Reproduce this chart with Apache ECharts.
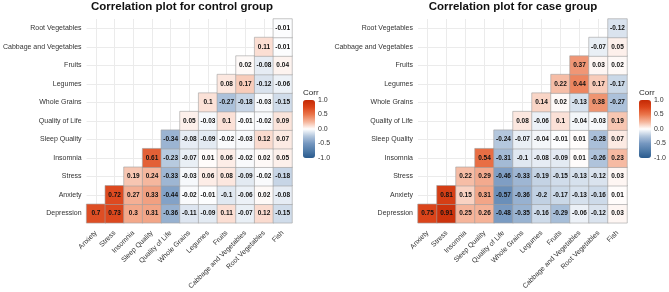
<!DOCTYPE html>
<html>
<head>
<meta charset="utf-8">
<script src="https://cdn.jsdelivr.net/npm/echarts@6/dist/echarts.min.js"></script>
<style>
  html, body { margin: 0; padding: 0; background: #fff; }
  #chart { width: 669px; height: 292px; }
</style>
</head>
<body>
<div id="chart"></div>
<script>
// y axis (bottom to top) and x axis (left to right)
const rowVars = ['Depression', 'Anxiety', 'Stress', 'Insomnia', 'Sleep Quality', 'Quality of Life',
  'Whole Grains', 'Legumes', 'Fruits', 'Cabbage and Vegetables', 'Root Vegetables']
const colVars = ['Anxiety', 'Stress', 'Insomnia', 'Sleep Quality', 'Quality of Life', 'Whole Grains',
  'Legumes', 'Fruits', 'Cabbage and Vegetables', 'Root Vegetables', 'Fish']

// row i starts at column i
const controlCorr = [
  [0.7, 0.73, 0.3, 0.31, -0.36, -0.11, -0.09, 0.11, -0.07, 0.12, -0.15],
  [0.72, 0.27, 0.33, -0.44, -0.02, -0.01, -0.1, -0.06, 0.02, -0.08],
  [0.19, 0.24, -0.33, -0.03, 0.06, 0.08, -0.09, -0.02, -0.18],
  [0.61, -0.23, -0.07, 0.01, 0.06, -0.02, 0.02, 0.05],
  [-0.34, -0.08, -0.09, -0.02, -0.03, 0.12, 0.07],
  [0.05, -0.03, 0.1, -0.01, -0.02, 0.09],
  [0.1, -0.27, -0.18, -0.03, -0.15],
  [0.08, 0.17, -0.12, -0.06],
  [0.02, -0.08, 0.04],
  [0.11, -0.01],
  [-0.01],
]
const caseCorr = [
  [0.75, 0.91, 0.25, 0.26, -0.48, -0.35, -0.16, -0.29, -0.06, -0.12, 0.03],
  [0.81, 0.15, 0.31, -0.57, -0.36, -0.2, -0.17, -0.13, -0.16, 0.01],
  [0.22, 0.29, -0.46, -0.33, -0.19, -0.15, -0.13, -0.12, 0.03],
  [0.54, -0.31, -0.1, -0.08, -0.09, 0.01, -0.26, 0.23],
  [-0.24, -0.07, -0.04, -0.01, 0.01, -0.28, 0.07],
  [0.08, -0.06, 0.1, -0.04, -0.03, 0.19],
  [0.14, 0.02, -0.13, 0.38, -0.27],
  [0.22, 0.44, 0.17, -0.17],
  [0.37, 0.03, 0.02],
  [-0.07, 0.05],
  [-0.12],
]
const titles = ['Correlation plot for control group', 'Correlation plot for case group']
const legendTicks = [-1, -0.5, 0, 0.5, 1]

const FONT = "'Liberation Sans', Arial, sans-serif"
const COLORS = {
  scale: ['#2A5B8E', '#4F7BA8', '#7597C0', '#B1C5DC', '#FFFFFF', '#F5B49A', '#EA764C', '#DB441A', '#C42A05'],
  grid: '#EBEBEB',
  border: '#A0A0A0',
  text: '#333333',
}

// panel geometry: left of cells, legend bar left, title center
const panels = [
  { left: 83, legendLeft: 303, titleX: 182 },
  { left: 418, legendLeft: 639, titleX: 513 },
]

function toCells(rows) {
  const out = []
  rows.forEach((row, i) => row.forEach((v, k) => out.push([i + k, i, v])))
  return out
}

const groups = [controlCorr, caseCorr]
const grid = [], xAxis = [], yAxis = [], series = [], visualMap = [], graphic = []

panels.forEach((p, g) => {
  grid.push({ left: p.left, top: 19, width: 209, height: 208 })
  xAxis.push({
    type: 'category', gridIndex: g, data: colVars,
    axisLine: { show: false }, axisTick: { show: false },
    axisLabel: { rotate: 45, margin: 9, fontSize: 7, color: COLORS.text, fontFamily: FONT, interval: 0 },
    splitLine: { show: true, alignWithLabel: true, interval: 0, lineStyle: { color: COLORS.grid, width: 1 } },
  })
  yAxis.push({
    type: 'category', gridIndex: g, data: rowVars,
    axisLine: { show: false }, axisTick: { show: false },
    axisLabel: { margin: 5, fontSize: 7, color: COLORS.text, fontFamily: FONT, interval: 0 },
    splitLine: { show: true, alignWithLabel: true, interval: 0, lineStyle: { color: COLORS.grid, width: 1 } },
  })
  series.push({
    type: 'heatmap', xAxisIndex: g, yAxisIndex: g,
    data: toCells(groups[g]),
    itemStyle: { borderColor: COLORS.border, borderWidth: 0.6 },
    label: {
      show: true, fontSize: 6.5, fontWeight: 'bold', color: '#111', fontFamily: FONT,
      formatter: d => String(d.data[2]),
    },
    emphasis: { disabled: true },
  })
  visualMap.push({
    type: 'continuous', seriesIndex: g, min: -1, max: 1, calculable: false, hoverLink: false,
    orient: 'vertical', left: p.legendLeft, top: 100, itemWidth: 12, itemHeight: 58, padding: 0,
    inRange: { color: COLORS.scale },
  })
  graphic.push({
    type: 'text', x: p.titleX, y: 7,
    style: { text: titles[g], textAlign: 'center', textVerticalAlign: 'middle',
      fontSize: 11.5, fontWeight: 'bold', fontFamily: FONT, fill: '#111' },
  })
  graphic.push({
    type: 'text', x: p.legendLeft, y: 93,
    style: { text: 'Corr', textAlign: 'left', textVerticalAlign: 'middle',
      fontSize: 8, fontFamily: FONT, fill: '#222' },
  })
})

// colour bar tick labels
panels.forEach((p, g) => {
  const gi = 2 + g
  grid.push({ left: p.legendLeft, top: 100, width: 12, height: 58 })
  xAxis.push({ type: 'value', gridIndex: gi, show: false, min: 0, max: 1 })
  yAxis.push({
    type: 'value', gridIndex: gi, position: 'right', min: -1, max: 1, interval: 0.5,
    axisLine: { show: false }, splitLine: { show: false },
    axisTick: { show: true, inside: true, length: 2.5, lineStyle: { color: '#fff' } },
    axisLabel: {
      margin: 3, fontSize: 7, color: COLORS.text, fontFamily: FONT,
      formatter: v => legendTicks.includes(v) ? v.toFixed(1) : '',
    },
  })
  series.push({ type: 'scatter', xAxisIndex: gi, yAxisIndex: gi, data: [], silent: true })
})

const chart = echarts.init(document.getElementById('chart'), null, { renderer: 'canvas' })
chart.setOption({
  animation: false,
  backgroundColor: '#fff',
  grid, xAxis, yAxis, series, visualMap, graphic,
})
</script>
</body>
</html>
